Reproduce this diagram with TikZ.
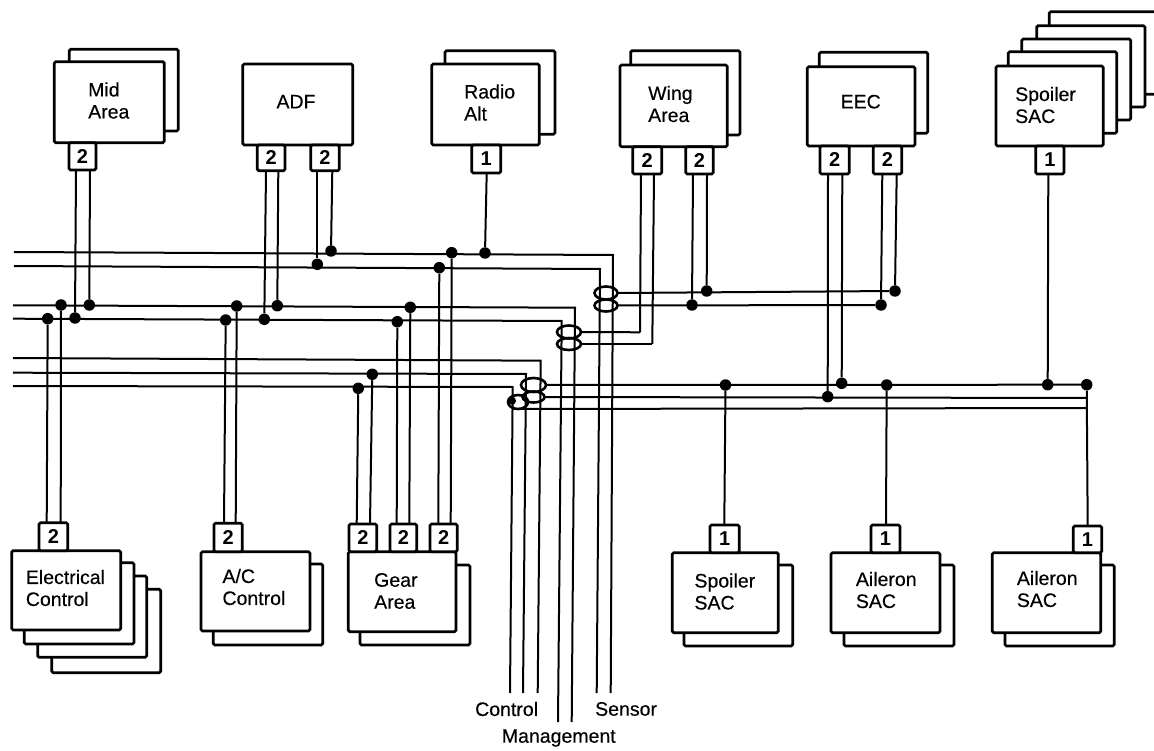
\documentclass[tikz,border=0pt]{standalone}
\usepackage{fontspec}
\setmainfont{Liberation Sans}
\newfontfamily\lblfont[FakeBold=0.3]{Liberation Sans}
\usetikzlibrary{shapes.geometric}
\tikzset{
  boxshape/.style={draw=black,fill=white,line width=2.7pt,rounded corners=1.5pt,inner sep=0pt,outer sep=0pt,anchor=north west},
  txt/.style={font=\fontsize{19.5}{22}\lblfont\selectfont,align=left,anchor=west,inner sep=0pt},
  pintxt/.style={font=\fontsize{20}{22}\selectfont\bfseries,inner sep=0pt},
  bus/.style={line width=2pt,line join=miter},
  dotnode/.style={circle,fill=black,draw=none,minimum size=11.5pt,inner sep=0pt},
  coupler/.style={ellipse,draw=black,line width=2.6pt,inner sep=0pt,outer sep=0pt}
}
\newcommand{\ubox}[5]{%
  \pgfmathsetmacro\bw{#4-#2}\pgfmathsetmacro\bh{#5-#3}%
  \node[boxshape,minimum width=\bw pt,minimum height=\bh pt] (#1) at (#2,#3) {};}
\newcommand{\pinbox}[6]{%
  \pgfmathsetmacro\bw{#4-#2}\pgfmathsetmacro\bh{#5-#3}%
  \node[boxshape,minimum width=\bw pt,minimum height=\bh pt,anchor=north west] (#1) at (#2,#3) {};
  \node[pintxt] (#1t) at (#1.center) {#6};}
\newcommand{\jdot}[3]{\node[dotnode] (#1) at (#2,#3) {};}
\begin{document}
\begin{tikzpicture}[x=1pt,y=-1pt]
\useasboundingbox (0,0) rectangle (1154,751);
\clip (0,0) rectangle (1154,751);

% junction dots
\jdot{e1}{47.7}{318.7}\jdot{e2}{61}{305}
\jdot{m1}{75}{318}\jdot{m2}{89.3}{305}
\jdot{ac1}{225.7}{320}\jdot{ac2}{236.7}{306}
\jdot{ad1}{264.3}{319.3}\jdot{ad2}{277.3}{305.7}
\jdot{ad3}{317.3}{264.3}\jdot{ad4}{331}{251}
\jdot{g1}{358.3}{388.3}\jdot{g2}{372.3}{374.3}
\jdot{g3}{397.3}{321.7}\jdot{g4}{410.3}{307.3}
\jdot{g5}{439.3}{267.7}\jdot{g6}{451.7}{252.7}
\jdot{ra}{485}{253}
\jdot{w3}{692}{305}\jdot{w4}{706.7}{291}
\jdot{ee3}{881}{305}\jdot{ee4}{895}{291}
\jdot{ee1}{827.7}{396.7}\jdot{ee2}{841.7}{383.3}
\jdot{ss}{725.5}{385}\jdot{as}{886.7}{385}
\jdot{sp}{1047.7}{384.7}\jdot{ar}{1086.7}{384.7}

% couplers
\node[coupler,minimum width=23pt,minimum height=13pt] (cs1) at (606,293) {};
\node[coupler,minimum width=23pt,minimum height=12pt] (cs2) at (606,305.5) {};
\node[coupler,minimum width=24pt,minimum height=13pt] (cm1) at (569,332) {};
\node[coupler,minimum width=24pt,minimum height=12pt] (cm2) at (569,344) {};
\node[coupler,minimum width=25pt,minimum height=14pt] (cc1) at (533.5,385) {};
\node[coupler,minimum width=22pt,minimum height=11pt] (cc2) at (533.5,397) {};
\node[coupler,minimum width=20pt,minimum height=14pt] (cc3) at (518,402) {};
\node[dotnode,minimum size=8pt] (cd) at (512,400.7) {};

% free ends of the buses
\coordinate (sa0) at (14,252);\coordinate (sa1) at (613,255);\coordinate (sa2) at (610.7,693);
\coordinate (sb0) at (14,266);\coordinate (sb1) at (600,269);\coordinate (sb2) at (596.7,693);
\coordinate (ma0) at (13,305.3);\coordinate (ma1) at (575,307.7);\coordinate (ma2) at (571.7,722);
\coordinate (mb0) at (13,318.7);\coordinate (mb1) at (561.7,321);\coordinate (mb2) at (558,722);
\coordinate (ca0) at (13,358);\coordinate (ca1) at (540.7,360.7);\coordinate (ca2) at (537.7,693);
\coordinate (cb0) at (13,372.7);\coordinate (cb1) at (526,374);\coordinate (cb2) at (523,693);
\coordinate (cc0) at (13,386);\coordinate (cc1c) at (512.7,387);\coordinate (cc2c) at (510,693);
\coordinate (r2e) at (1087,398);\coordinate (r3e) at (1087,408);
\coordinate (w1c) at (640,332.3);\coordinate (w2c) at (652.3,344);

% buses
\draw[bus] (sa0) -- (sa1) -- (sa2);
\draw[bus] (sb0) -- (sb1) -- (sb2);
\draw[bus] (ma0) -- (ma1) -- (ma2);
\draw[bus] (mb0) -- (mb1) -- (mb2);
\draw[bus] (ca0) -- (ca1) -- (ca2);
\draw[bus] (cb0) -- (cb1) -- (cb2);
\draw[bus] (cc0) -- (cc1c) -- (cc2c);
\draw[bus] (cs1.east) -- (ee4);
\draw[bus] (cs2.east) -- (ee3);
\draw[bus] (cm1.east) -- (w1c);
\draw[bus] (cm2.east) -- (w2c);
\draw[bus] (cc1.east) -- (ar);
\draw[bus] (cc2.east) -- (r2e);
\draw[bus] (cc3.south) -- (r3e);

% top units
\ubox{midb}{69.3}{49.3}{178.3}{131}
\ubox{mid}{54.3}{61.7}{164.3}{142.7}
\node[txt] (midt) at (88,100.5) {Mid\\Area};
\pinbox{midp}{69}{142.7}{96}{170}{2}

\ubox{adf}{242.7}{64}{352.7}{145}
\node[txt,anchor=center] (adft) at (296,101.7) {ADF};
\pinbox{adp1}{257.3}{145}{285}{170.7}{2}
\pinbox{adp2}{310.7}{145}{339.3}{170.7}{2}

\ubox{rab}{445}{50.7}{555}{134.3}
\ubox{rad}{431.7}{64}{539.3}{145}
\node[txt] (radt) at (464,102.5) {Radio\\Alt};
\pinbox{rap}{471.7}{145}{500.7}{173}{1}

\ubox{wib}{630.7}{50.7}{740}{135}
\ubox{win}{620}{65}{727.3}{146.7}
\node[txt] (wint) at (648,104) {Wing\\Area};
\pinbox{wip1}{632.7}{146.7}{661.7}{174}{2}
\pinbox{wip2}{685.7}{146.7}{713.3}{174}{2}

\ubox{eeb}{819.3}{52.3}{927.7}{133.3}
\ubox{eec}{807.3}{66.7}{915}{146}
\node[txt,anchor=center] (eect) at (860.7,101.7) {EEC};
\pinbox{eep1}{820}{146}{849.3}{174}{2}
\pinbox{eep2}{873.3}{146}{901.7}{174}{2}

\ubox{spb4}{1049.3}{11.7}{1170}{94.3}
\ubox{spb3}{1036.7}{25.7}{1145}{107}
\ubox{spb2}{1021.7}{39}{1130.7}{120}
\ubox{spb1}{1008.3}{51.7}{1116.7}{133.3}
\ubox{spt}{996}{66}{1103.3}{146}
\node[txt] (sptt) at (1015,105) {Spoiler\\SAC};
\pinbox{spp}{1035.7}{146}{1064}{174}{1}

% bottom units
\ubox{elb3}{51.7}{589.3}{160.7}{672.7}
\ubox{elb2}{37.7}{576}{146.7}{657.3}
\ubox{elb1}{24.3}{562.7}{134}{644}
\ubox{ele}{11.7}{550.7}{120.7}{630}
\node[txt] (elet) at (25.7,588) {Electrical\\Control};
\pinbox{elp}{39}{522.7}{67.7}{550.7}{2}

\ubox{acb}{213.3}{564}{322.7}{645}
\ubox{acc}{201}{551.7}{310}{631}
\node[txt] (acct) at (222.3,587) {A/C\\Control};
\pinbox{acp}{214}{523.3}{242.3}{551.7}{2}

\ubox{geb}{360}{565}{470}{645}
\ubox{gea}{348.3}{551.7}{456}{631.7}
\node[txt] (geat) at (374,591) {Gear\\Area};
\pinbox{gep1}{349}{524}{376.7}{551.7}{2}
\pinbox{gep2}{390}{524}{416.7}{551.7}{2}
\pinbox{gep3}{430}{524}{457.3}{551.7}{2}

\ubox{bsb}{684}{565}{792.7}{646}
\ubox{bsp}{672.3}{552.7}{778.3}{632.7}
\node[txt] (bspt) at (694.3,591.5) {Spoiler\\SAC};
\pinbox{bsq}{710}{525}{739.3}{552.7}{1}

\ubox{ai1b}{844}{565}{954}{646}
\ubox{ai1}{831}{552.7}{940}{632.7}
\node[txt] (ai1t) at (855.7,590) {Aileron\\SAC};
\pinbox{ai1p}{871}{525}{900}{552.7}{1}

\ubox{ai2b}{1005}{565}{1114.3}{646}
\ubox{ai2}{992.3}{552.7}{1100.7}{632.7}
\node[txt] (ai2t) at (1016.7,589) {Aileron\\SAC};
\pinbox{ai2p}{1073.3}{526}{1101.7}{552.7}{1}

% free ends on the pins (line positions inside each pin's width)
\foreach \n/\x/\y in {a/76/170,b/90/170,c/266/170.7,d/278.3/170.7,f/317.3/170.7,g/332.3/170.7,
  h/486.7/173,i/641/174,j/654/174,k/693/174,l/707/174,n/828/174,o/842.3/174,p/882.3/174,q/896.7/174,r/1048.3/174,
  s/46.7/522.7,t/60.7/522.7,u/224/523.3,v/235.7/523.3,
  aa/356.7/524,ab/370/524,ac/396.7/524,ad/409.3/524,ae/438.3/524,af/450.7/524,
  ag/724.3/525,ah/886/525,ai/1087.7/526}
  {\coordinate (P\n) at (\x,\y);}

% drop lines
\draw[bus] (Pa) -- (m1); \draw[bus] (Pb) -- (m2);
\draw[bus] (Pc) -- (ad1); \draw[bus] (Pd) -- (ad2);
\draw[bus] (Pf) -- (ad3); \draw[bus] (Pg) -- (ad4);
\draw[bus] (Ph) -- (ra);
\draw[bus] (Pi) -- (w1c); \draw[bus] (Pj) -- (w2c);
\draw[bus] (Pk) -- (w3); \draw[bus] (Pl) -- (w4);
\draw[bus] (Pn) -- (ee1); \draw[bus] (Po) -- (ee2);
\draw[bus] (Pp) -- (ee3); \draw[bus] (Pq) -- (ee4);
\draw[bus] (Pr) -- (sp);
\draw[bus] (Ps) -- (e1); \draw[bus] (Pt) -- (e2);
\draw[bus] (Pu) -- (ac1); \draw[bus] (Pv) -- (ac2);
\draw[bus] (Paa) -- (g1); \draw[bus] (Pab) -- (g2);
\draw[bus] (Pac) -- (g3); \draw[bus] (Pad) -- (g4);
\draw[bus] (Pae) -- (g5); \draw[bus] (Paf) -- (g6);
\draw[bus] (Pag) -- (ss); \draw[bus] (Pah) -- (as);
\draw[bus] (Pai) -- (ar);

% bus names
\node[txt] (lc) at (475,709) {Control};
\node[txt] (ls) at (595,709) {Sensor};
\node[txt] (lm) at (501.7,738) {Management};
\end{tikzpicture}
\end{document}
